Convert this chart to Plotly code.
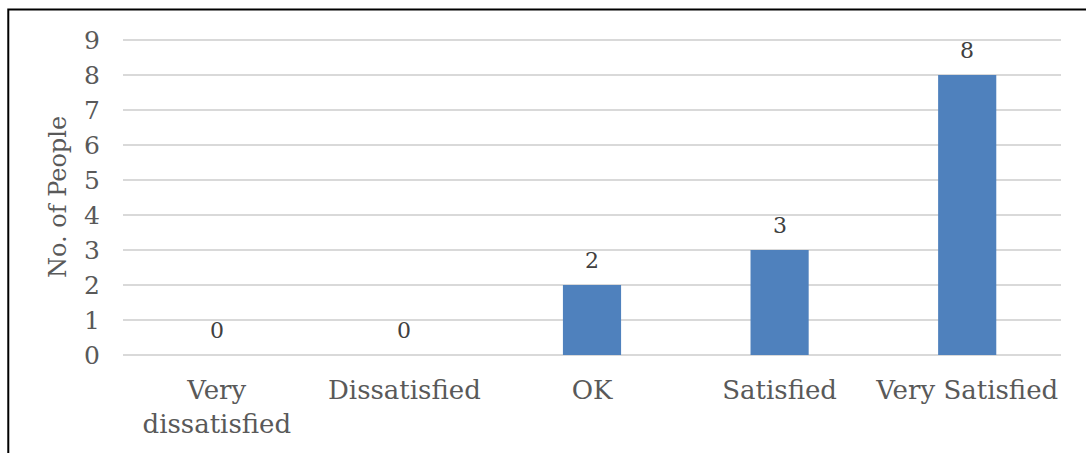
import plotly.graph_objects as go

categories = ["Very<br>dissatisfied", "Dissatisfied", "OK", "Satisfied", "Very Satisfied"]
counts = [0, 0, 2, 3, 8]
y_ticks = [0, 1, 2, 3, 4, 5, 6, 7, 8, 9]

FONT = "DejaVu Serif"
TEXT = "#595959"
GRID = "#d9d9d9"

fig = go.Figure()
fig.add_trace(go.Bar(
    x=categories,
    y=counts,
    marker=dict(color="#4f81bd", line=dict(width=0)),
    width=0.31,
    hoverinfo="skip",
))

# value labels sitting above each bar
for c, v in zip(categories, counts):
    fig.add_annotation(
        x=c, y=v, text=str(v), showarrow=False,
        yanchor="bottom", yshift=10,
        font=dict(family=FONT, size=22, color="#404040"),
    )

# chart frame (left and top edges visible)
fig.add_shape(
    type="rect", xref="paper", yref="paper",
    x0=-0.1223, x1=1.3, y0=-0.6, y1=1.0935,
    line=dict(color="black", width=2), layer="above",
)

fig.update_layout(
    width=1086, height=453,
    margin=dict(l=123, r=25, t=39, b=98),
    paper_bgcolor="white", plot_bgcolor="white",
    showlegend=False,
    font=dict(family=FONT, color=TEXT),
    xaxis=dict(
        tickfont=dict(family=FONT, size=26, color=TEXT),
        showgrid=False, showline=False, ticks="",
        ticklabelstandoff=17,
    ),
    yaxis=dict(
        range=[0, 9.03],
        tickvals=y_ticks,
        tickfont=dict(family=FONT, size=25, color=TEXT),
        showgrid=True, gridcolor=GRID, gridwidth=1.5,
        zeroline=True, zerolinecolor=GRID, zerolinewidth=1.5,
        showline=False, ticks="",
        ticklabelstandoff=22,
        title=dict(text="No. of People", font=dict(family=FONT, size=24, color=TEXT), standoff=10),
    ),
)

fig.write_html("out.html")
